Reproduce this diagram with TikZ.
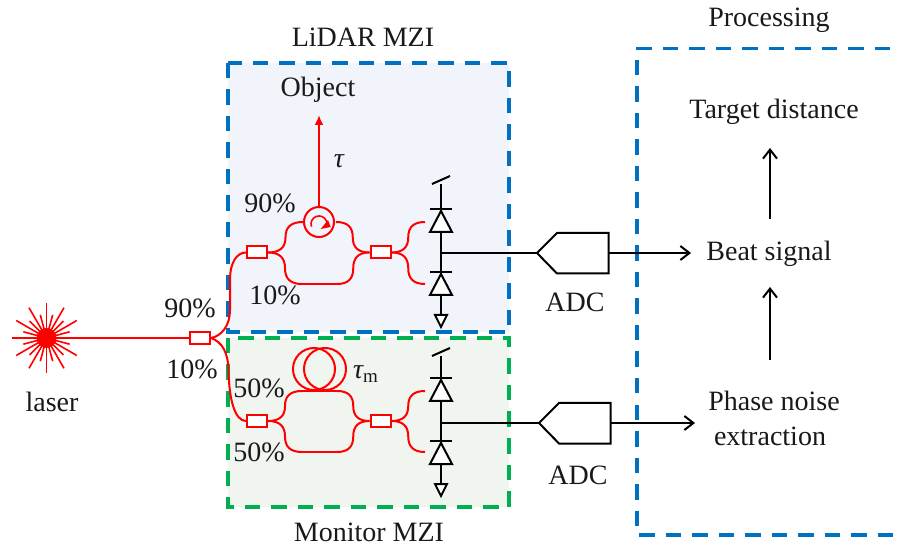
\documentclass[tikz,border=0pt]{standalone}
\usepackage{fontspec}
\setmainfont{Liberation Serif}
\usetikzlibrary{arrows.meta,calc}
\definecolor{dblue}{HTML}{0070C0}
\definecolor{dgreen}{HTML}{00B050}
\definecolor{fblue}{HTML}{F1F4FA}
\definecolor{fgreen}{HTML}{F1F5F0}
\tikzset{
  lab/.style={font=\fontsize{28}{30}\selectfont,inner sep=0pt,text=black!90,anchor=base},
  dashb/.style={line width=3.3pt,dash pattern=on 15.5pt off 11pt},
  bluebox/.style={draw=dblue,dashb,fill=fblue},
  greenbox/.style={draw=dgreen,dashb,fill=fgreen},
  fib/.style={draw=red,line width=2pt},
  coup/.style={draw=red,line width=2pt,fill=white,minimum width=20pt,minimum height=12pt,inner sep=0pt},
  wire/.style={draw=black,line width=2pt},
  arr/.style={wire,-{Straight Barb[length=9pt,width=14pt,line width=2pt]}},
  dio/.style={draw=black,line width=2pt,fill=white,line join=miter},
}
\newcommand{\photo}[2]{%
  \draw[wire] (441,#2)--(441,#1+131);
  \draw[wire] (432,#2)--(450,#2-8);
  \begin{scope}[shift={(0,#1)}]
  \draw[wire] (430,25)--(452,25);
  \draw[dio] (441,27)--(452,48)--(430,48)--cycle;
  \draw[wire] (430,88)--(452,88);
  \draw[dio] (441,90)--(452,111)--(430,111)--cycle;
  \draw[dio] (435,131)--(447,131)--(441,143)--cycle;
  \end{scope}}
\newcommand{\sbend}[2]{%
  \draw[fib] let \p1=(#1),\p2=(#2),\n1={(\x1+\x2)/2},\n2={(\y1+\y2)/2} in
  (#1) .. controls ({.3*\x1+.7*\n1},\y1) and (\n1,{.65*\y1+.35*\n2}) .. (\n1,\n2)
  .. controls (\n1,{.35*\n2+.65*\y2}) and ({.3*\x2+.7*\n1},\y2) .. (#2);}
\begin{document}
\begin{tikzpicture}[x=1pt,y=-1pt]
\useasboundingbox (0,0) rectangle (898,548);
% dashed frames
\path[bluebox] (228,63) rectangle (509,332);
\path[greenbox] (228,338) rectangle (509,507);
\coordinate (ptr) at (898,48.5);
\coordinate (ptl) at (636,48.5);
\coordinate (pl1) at (637,60);
\coordinate (pl2) at (637,526);
\coordinate (pbl) at (639,535);
\coordinate (pbr) at (898,535);
\draw[draw=dblue,dashb] (ptl)--(ptr);
\draw[draw=dblue,dashb] (pl1)--(pl2);
\draw[draw=dblue,dashb] (pbl)--(pbr);
% laser
\coordinate (las) at (46.5,338);
\fill[red] (las) circle (10);
\foreach \a in {0,30,...,330}{\draw[red,line width=1.6pt] (las)--++(\a:35);}
\foreach \a in {15,45,...,345}{\draw[red,line width=1.6pt] (las)--++(\a:24);}
% couplers
\node[coup] (c0) at (200,338) {};
\node[coup] (c1) at (257,252.5) {};
\node[coup] (c2) at (380.5,252.5) {};
\node[coup] (c3) at (257,421) {};
\node[coup] (c4) at (380.5,421) {};
\draw[fib] (las) -- (c0.west);
\draw[fib] (c0.east) .. controls (222,336) and (230,325) .. (230,310) -- (230,280) .. controls (230,262) and (237,252.5) .. (c1.west);
\draw[fib] (c0.east) .. controls (222,342) and (228,352) .. (228.5,370) .. controls (229,400) and (235,421) .. (c3.west);
% circulator
\node[circle,draw=red,line width=2pt,minimum size=30pt,inner sep=0pt] (circ) at (319,222) {};
\draw[red,line width=1.6pt] (311.5,226.7) arc[start angle=160,end angle=380,radius=8];
\fill[red] (320.7,229)--(330.7,227)--(328,220)--cycle;
\coordinate (obj) at (319,115);
\draw[fib,-{Latex[length=10pt,width=9pt]}] (circ.north)--(obj);
% upper MZI
\coordinate (u1) at (303,222); \coordinate (u2) at (336,222);
\coordinate (d1) at (302,284); \coordinate (d2) at (337,284);
\sbend{c1.east}{u1}
\sbend{u2}{c2.west}
\sbend{c1.east}{d1}
\sbend{d2}{c2.west}
\draw[fib] (d1)--(d2);
\coordinate (o1) at (425,222); \coordinate (o2) at (425,284);
\sbend{c2.east}{o1}
\sbend{c2.east}{o2}
% lower MZI
\coordinate (a1) at (302,391); \coordinate (a2) at (337,391);
\coordinate (b1) at (302,452); \coordinate (b2) at (337,452);
\sbend{c3.east}{a1}
\sbend{a2}{c4.west}
\sbend{c3.east}{b1}
\sbend{b2}{c4.west}
\draw[fib] (a1)--(a2);
\draw[fib] (b1)--(b2);
\draw[fib] (314,369) circle (21);
\draw[fib] (325,369) circle (21);
\coordinate (o3) at (425,391); \coordinate (o4) at (425,452);
\sbend{c4.east}{o3}
\sbend{c4.east}{o4}
% photodiodes
\photo{184}{184}
\photo{353}{356}
% ADCs
\coordinate (p1) at (441,253); \coordinate (p2) at (441,423);
\draw[wire,line join=miter] (537,253)--(557,233)--(608.5,233)--(608.5,273.5)--(557,273.5)--cycle;
\draw[wire,line join=miter] (539,423)--(559,403)--(610.5,403)--(610.5,443.5)--(559,443.5)--cycle;
\draw[wire] (p1)--(537,253);
\draw[wire] (p2)--(539,423);
\coordinate (q1) at (691,253); \coordinate (q2) at (695,423);
\draw[arr] (608.5,253)--(q1);
\draw[arr] (610.5,423)--(q2);
\coordinate (v1) at (770,219); \coordinate (v2) at (770,148);
\coordinate (v3) at (770,360); \coordinate (v4) at (770,287);
\draw[arr] (v1)--(v2);
\draw[arr] (v3)--(v4);
% labels
\node[lab] (t1) at (363,47) {LiDAR MZI};
\node[lab] (t2) at (318,97) {Object};
\node[lab] (t3) at (339,168) {\itshape τ};
\node[lab] (t4) at (270,213) {90\%};
\node[lab] (t5) at (275,305) {10\%};
\node[lab] (t6) at (190,318) {90\%};
\node[lab] (t7) at (192,378) {10\%};
\node[lab] (t8) at (52,411) {laser};
\node[lab] (t9) at (259,397) {50\%};
\node[lab] (t10) at (259,461) {50\%};
\node[lab,anchor=base west] (t11) at (353,378) {{\itshape τ}\raisebox{-5pt}{\fontsize{19}{20}\selectfont m}};
\node[lab] (t12) at (575,312) {ADC};
\node[lab] (t13) at (578,484) {ADC};
\node[lab] (t14) at (369,541) {Monitor MZI};
\node[lab] (t15) at (769,27) {Processing};
\node[lab] (t16) at (774,119) {Target distance};
\node[lab] (t17) at (769,261) {Beat signal};
\node[lab] (t18) at (774,410) {Phase noise};
\node[lab] (t19) at (770,445) {extraction};
\end{tikzpicture}
\end{document}
